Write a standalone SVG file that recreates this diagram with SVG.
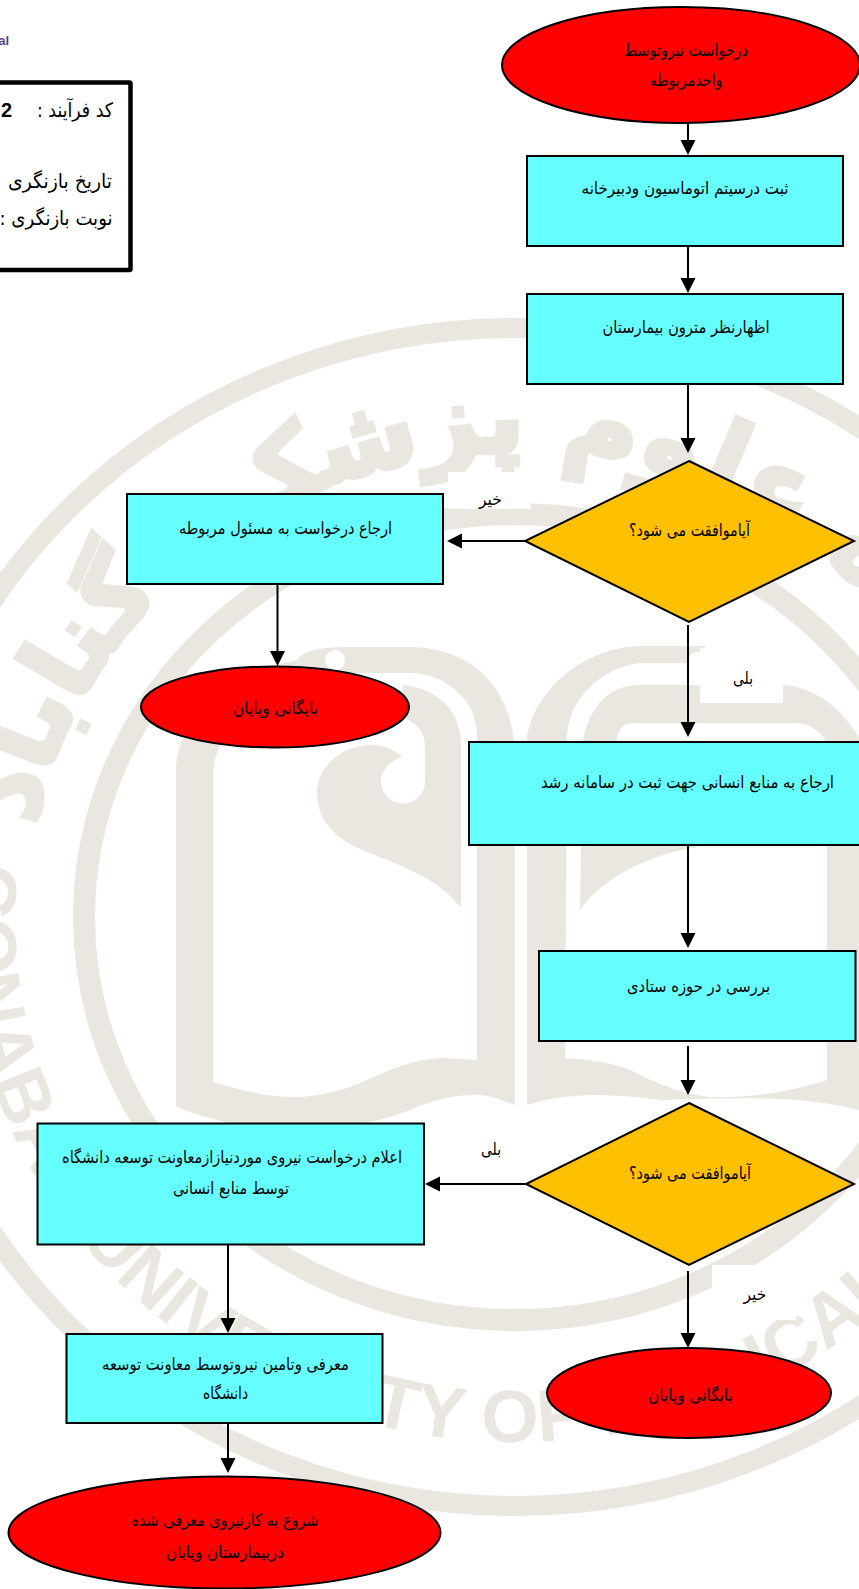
<svg xmlns="http://www.w3.org/2000/svg" width="859" height="1589" viewBox="0 0 859 1589">
<style>
.t{font-family:"DejaVu Sans","Noto Sans",sans-serif;font-size:17px;fill:#000;text-anchor:middle;direction:rtl}
.h{font-size:20px}
.n{stroke:#000;stroke-width:2}
.r{fill:#66ffff}
.e{fill:#ff0000}
.d{fill:#ffc000}
.c{fill:none;stroke:#000;stroke-width:2;marker-end:url(#ah)}
.wm{fill:#e9e7df}
.ring{fill:none;stroke:#e9e7df}
.p{fill:#fff}
</style>
<defs>
<marker id="ah" markerUnits="userSpaceOnUse" markerWidth="18" markerHeight="18" refX="11" refY="7.500" orient="auto"><path d="M0,0 L15,7.500 L0,15 Z" fill="#000"/></marker>
<path id="enp" d="M515,392 A551,525 0 0 0 -36,917 A551,525 0 0 0 1066,917"/>
<path id="fap" d="M25,917 A490,465 0 0 1 1005,917"/>
</defs>
<rect width="859" height="1589" fill="#fff"/>
<g id="watermark">
<ellipse class="ring" cx="515" cy="917" rx="619" ry="589" stroke-width="20"/>
<ellipse class="ring" cx="515" cy="917" rx="431" ry="403" stroke-width="22"/>
<text font-family="'Liberation Sans',sans-serif" font-weight="700" font-size="74" class="wm"><textPath href="#enp" startOffset="790">GONABAD UNIVERSITY OF MEDICAL SCIENCES</textPath></text>
<text font-family="'DejaVu Sans',sans-serif" font-weight="700" font-size="102" class="wm" stroke="#e9e7df" stroke-width="5" direction="rtl" text-anchor="middle"><textPath href="#fap" startOffset="52%">دانشگاه علوم پزشکی گناباد</textPath></text>
<path class="wm" fill-rule="evenodd" d="M176,1107 L176,770 C176,710 250,668 297,660 C305,648 330,647 350,647 L415,647 C475,650 515,690 515,760 L515,1105 C500,1100 488,1093 470,1095 C450,1096 433,1100 410,1110 C380,1122 320,1135 267,1130 C230,1125 200,1116 176,1107 Z M213,1082 C240,1090 265,1097 293,1097 C320,1097 345,1090 367,1080 C395,1067 415,1060 440,1058 L477,1060 L477,735 C477,700 445,673 410,673 L350,673 C290,680 213,720 213,775 Z"/>
<circle cx="335" cy="660" r="10" fill="#fff"/>
<path class="wm" d="M403,685 C435,688 461,708 461,745 L461,908 C440,882 420,873 370,853 C335,840 317,820 317,793 C317,765 345,745 370,745 C385,745 395,750 402,757 C392,760 381,770 381,780 A22,22 0 0 0 425,783 L425,747 C425,730 415,722 400,716 Z"/>
<path class="wm" d="M527,1105 L527,740 C530,700 575,648 640,646 L705,646 L705,663 L640,663 C600,668 567,700 567,740 L565,1058 C590,1060 610,1062 630,1070 C660,1085 680,1093 710,1097 C750,1098 790,1092 827,1080 L880,1080 L880,1115 L859,1110 C800,1095 740,1098 663,1100 C620,1095 575,1090 527,1105 Z"/>
<circle cx="697" cy="660" r="8" fill="#fff"/>
<path class="wm" d="M580,910 L583,740 C590,705 610,685 640,685 L783,685 C815,687 850,710 870,760 L880,1085 L827,1085 L827,745 C825,735 810,723 797,723 L630,723 C620,725 617,735 617,740 L617,800 L697,847 C650,855 605,875 580,910 Z"/>
<rect class="p" x="448" y="472" width="83" height="37"/>
<rect class="p" x="700" y="648" width="83" height="55"/>
<rect class="p" x="712" y="1265" width="84" height="55"/>
</g>
<g id="connectors">
<line class="c" x1="688" y1="123" x2="688" y2="151"/>
<line class="c" x1="688" y1="246" x2="688" y2="289"/>
<line class="c" x1="688" y1="384" x2="688" y2="449"/>
<line class="c" x1="525" y1="541" x2="451" y2="541"/>
<line class="c" x1="277.500" y1="584" x2="277.500" y2="662"/>
<line class="c" x1="688" y1="625" x2="688" y2="733"/>
<line class="c" x1="688" y1="845" x2="688" y2="944"/>
<line class="c" x1="688" y1="1046" x2="688" y2="1091"/>
<line class="c" x1="526" y1="1184" x2="429" y2="1184"/>
<line class="c" x1="228" y1="1245" x2="228" y2="1329"/>
<line class="c" x1="688" y1="1271" x2="688" y2="1344"/>
<line class="c" x1="228" y1="1423" x2="228" y2="1469"/>
</g>
<g id="legend">
<rect x="-200" y="82.500" width="330.500" height="187.500" fill="#fff" stroke="#000" stroke-width="4.500" rx="1"/>
<text class="t h" x="75" y="117" textLength="76" lengthAdjust="spacingAndGlyphs">کد فرآیند :</text>
<text x="1" y="117" font-family="'Liberation Sans',sans-serif" font-weight="700" font-size="20">2</text>
<text class="t h" x="60" y="188" textLength="104" lengthAdjust="spacingAndGlyphs">تاریخ بازنگری</text>
<text class="t h" x="56" y="225" textLength="113" lengthAdjust="spacingAndGlyphs">نوبت بازنگری :</text>
</g>
<text id="corner" x="9" y="45" text-anchor="end" font-family="'Liberation Sans',sans-serif" font-weight="700" font-size="13" fill="#5b3f8f">al</text>
<g id="n1"><ellipse class="n e" cx="681" cy="65" rx="179" ry="58"/>
<text class="t" x="686" y="56" textLength="124" lengthAdjust="spacingAndGlyphs">درخواست نیروتوسط</text>
<text class="t" x="686" y="86" textLength="73" lengthAdjust="spacingAndGlyphs">واحدمربوطه</text></g>
<g id="n2"><rect class="n r" x="527" y="156" width="316" height="90"/>
<text class="t" x="685" y="194" textLength="207" lengthAdjust="spacingAndGlyphs">ثبت درسیتم اتوماسیون ودبیرخانه</text></g>
<g id="n3"><rect class="n r" x="527" y="294" width="316" height="90"/>
<text class="t" x="686" y="333" textLength="167" lengthAdjust="spacingAndGlyphs">اظهارنظر مترون بیمارستان</text></g>
<g id="n4"><polygon class="n d" points="689,461 854,541 689,622 525,541"/>
<text class="t" x="689.500" y="536" textLength="121" lengthAdjust="spacingAndGlyphs">آیاموافقت می شود؟</text></g>
<text class="t" id="l1" x="490.500" y="505" textLength="23" lengthAdjust="spacingAndGlyphs">خیر</text>
<g id="n5"><rect class="n r" x="127" y="494" width="316" height="90"/>
<text class="t" x="285.500" y="534" textLength="213" lengthAdjust="spacingAndGlyphs">ارجاع درخواست به مسئول مربوطه</text></g>
<g id="n6"><ellipse class="n e" cx="275" cy="707" rx="134" ry="40.500"/>
<text class="t" x="275.500" y="714" textLength="85" lengthAdjust="spacingAndGlyphs">بایگانی وپایان</text></g>
<text class="t" id="l2" x="743" y="684" textLength="20" lengthAdjust="spacingAndGlyphs">بلی</text>
<g id="n7"><rect class="n r" x="469" y="742" width="400" height="103"/>
<text class="t" x="687.500" y="788" textLength="293" lengthAdjust="spacingAndGlyphs">ارجاع به منابع انسانی جهت ثبت در سامانه رشد</text></g>
<g id="n8"><rect class="n r" x="539" y="951" width="316.500" height="90"/>
<text class="t" x="698.500" y="992" textLength="143" lengthAdjust="spacingAndGlyphs">بررسی در حوزه ستادی</text></g>
<g id="n9"><polygon class="n d" points="689,1103 854,1184 689,1265 526,1184"/>
<text class="t" x="690" y="1179" textLength="122" lengthAdjust="spacingAndGlyphs">آیاموافقت می شود؟</text></g>
<text class="t" id="l3" x="491" y="1155" textLength="20" lengthAdjust="spacingAndGlyphs">بلی</text>
<g id="n10"><rect class="n r" x="37.500" y="1123.500" width="386.500" height="121"/>
<text class="t" x="232" y="1163" textLength="340" lengthAdjust="spacingAndGlyphs">اعلام درخواست نیروی موردنیازازمعاونت توسعه دانشگاه</text>
<text class="t" x="231" y="1194" textLength="116" lengthAdjust="spacingAndGlyphs">توسط منابع انسانی</text></g>
<text class="t" id="l4" x="755" y="1300" textLength="23" lengthAdjust="spacingAndGlyphs">خیر</text>
<g id="n11"><ellipse class="n e" cx="689" cy="1393" rx="142" ry="45"/>
<text class="t" x="690.500" y="1401" textLength="85" lengthAdjust="spacingAndGlyphs">بایگانی وپایان</text></g>
<g id="n12"><rect class="n r" x="66.500" y="1334" width="316" height="89"/>
<text class="t" x="225.500" y="1370" textLength="247" lengthAdjust="spacingAndGlyphs">معرفی وتامین  نیروتوسط معاونت توسعه</text>
<text class="t" x="225.500" y="1399" textLength="45" lengthAdjust="spacingAndGlyphs">دانشگاه</text></g>
<g id="n13"><ellipse class="n e" cx="224.500" cy="1532.500" rx="216" ry="56"/>
<text class="t" x="225" y="1526" textLength="187" lengthAdjust="spacingAndGlyphs">شروع به کارنیروی معرفی شده</text>
<text class="t" x="225" y="1558" textLength="118" lengthAdjust="spacingAndGlyphs">دربیمارستان وپایان</text></g>
</svg>
